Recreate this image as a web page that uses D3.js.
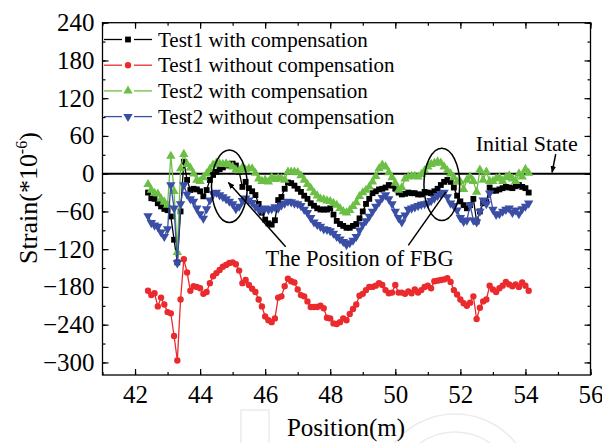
<!DOCTYPE html>
<html><head><meta charset="utf-8">
<script src="https://cdn.jsdelivr.net/npm/d3@7"></script>
<style>
html,body{margin:0;padding:0;background:#fff;}
svg{display:block;font-family:"Liberation Serif","Times New Roman",serif;}
</style></head>
<body><svg id="c" width="602" height="443"></svg>
<script>
// ---------- data ----------
const positions = d3.range(118).map(i => +(42.4 + i * 0.1).toFixed(1)); // 42.4 .. 54.1 m

const test1With = [-30,-39,-40,-47,-52,-56,-58,-68,-105,-141,
 -60,19,-10,-26,-24,-25,-28,-36,-26,-10,
 -2,3,7,10,13,15,16,13,3,-21,
 -13,-23,-28,-34,-48,-62,-73,-79,-81,-74,
 -42,-37,-24,-14,-15,-19,-24,-29,-35,-40,
 -47,-51,-55,-57,-57,-57,-55,-65,-75,-80,
 -83,-86,-86,-83,-80,-71,-60,-48,-40,-31,
 -28,-25,-24,-22,-18,-19,-24,-30,-33,-32,
 -30,-31,-31,-33,-33,-29,-30,-31,-28,-24,
 -18,-13,-10,-13,-22,-35,-44,-50,-55,-50,
 -40,-76,-60,-47,-45,-22,-27,-27,-25,-23,
 -21,-22,-23,-20,-18,-21,-23,-30];

const test1Without = [-186,-193,-190,-211,-197,-208,-220,-222,-258,-297,
 -200,-136,-157,-186,-179,-180,-182,-191,-188,-174,
 -163,-158,-153,-148,-145,-142,-141,-144,-154,-174,
 -169,-177,-183,-188,-200,-211,-227,-233,-236,-230,
 -197,-195,-179,-167,-171,-173,-184,-193,-195,-203,
 -212,-212,-212,-210,-214,-229,-230,-238,-239,-236,
 -230,-233,-223,-215,-208,-194,-191,-185,-180,-180,
 -178,-174,-177,-185,-190,-189,-177,-189,-189,-191,
 -187,-190,-184,-189,-185,-180,-178,-182,-171,-170,
 -169,-168,-166,-172,-185,-192,-200,-206,-210,-205,
 -195,-231,-213,-203,-200,-178,-184,-188,-182,-178,
 -172,-176,-179,-176,-180,-173,-178,-186];

const test2With = [-17,-26,-31,-32,-40,-45,-50,28,-28,-125,
 8,31,15,9,0,-10,-12,-6,0,7,
 14,17,16,15,16,14,11,6,5,10,
 6,8,8,1,-8,-12,-10,-13,-6,-9,
 -7,-8,-10,3,3,3,2,-3,-10,-17,
 -23,-30,-35,-40,-41,-43,-44,-47,-50,-55,
 -60,-62,-58,-52,-46,-36,-30,-26,-21,-13,
 -4,8,14,11,2,-6,-15,-26,-22,-8,
 -5,-4,-4,-5,-1,5,11,15,17,19,
 17,11,5,0,-6,-13,-13,-25,-10,-5,
 -12,-29,6,-10,3,-12,-12,-8,-6,-12,
 -6,-3,-8,-12,0,-5,7,1];

const test2Without = [-67,-78,-82,-84,-93,-100,-88,-18,-55,-142,
 -48,-18,-33,-40,-44,-55,-64,-71,-56,-42,
 -32,-30,-34,-37,-40,-44,-48,-56,-52,-43,
 -39,-42,-46,-52,-57,-58,-55,-57,-56,-53,
 -55,-50,-47,-44,-45,-47,-48,-51,-57,-62,
 -70,-77,-81,-84,-88,-89,-91,-95,-100,-104,
 -108,-113,-110,-106,-100,-90,-81,-75,-68,-60,
 -52,-45,-38,-34,-40,-48,-60,-70,-77,-66,
 -57,-55,-53,-51,-49,-48,-47,-43,-39,-35,
 -32,-30,-37,-47,-51,-58,-70,-76,-74,-50,
 -74,-77,-60,-42,-48,-31,-57,-65,-64,-60,
 -57,-55,-62,-58,-64,-56,-52,-47];

const seriesNames = ["Test1 with compensation","Test1 without compensation","Test2 with compensation","Test2 without compensation"];
const seriesValues = [test1With, test1Without, test2With, test2Without];
const seriesColors = ["#000000","#ea2a2c","#6cbf45","#3a4ea6"];
const seriesMarkers = ["square","circle","up","down"];

const xTicks = [42,44,46,48,50,52,54,56];
const yTicks = [-300,-240,-180,-120,-60,0,60,120,180,240];

// ---------- layout ----------
const svg = d3.select("#c");
const L = 102.5, R = 590.5, T = 22.7, B = 375;
const x = d3.scaleLinear().domain([41,56]).range([L,R]);
const y = d3.scaleLinear().domain([-320,240]).range([B,T]);

svg.append("rect").attr("width",602).attr("height",443).attr("fill","#fff");

// faint watermark
const wm = svg.append("g").attr("fill","none").attr("stroke","#ececec").attr("stroke-width",1.5);
wm.append("circle").attr("cx",455).attr("cy",492).attr("r",78);
wm.append("circle").attr("cx",455).attr("cy",492).attr("r",60);
wm.append("rect").attr("x",241).attr("y",410).attr("width",28).attr("height",40);

// zero line
svg.append("line").attr("x1",x(41)).attr("x2",x(56)).attr("y1",y(0)).attr("y2",y(0))
  .attr("stroke","#000").attr("stroke-width",2);

// axes
const fontTick = 25;
function styleAxis(g){ g.select(".domain").remove(); g.selectAll("line").attr("stroke","#000").attr("stroke-width",1.2);
  g.selectAll("text").attr("font-size",fontTick).attr("font-family","Liberation Serif").attr("fill","#000"); }
const xMinor = d3.range(41,57,1);
const yMinor = d3.range(-300,241,30);
svg.append("g").attr("transform",`translate(0,${B})`).call(d3.axisBottom(x).tickValues(xTicks).tickSize(-6).tickPadding(10).tickFormat(d3.format("d"))).call(styleAxis);
svg.append("g").attr("transform",`translate(0,${B})`).call(d3.axisBottom(x).tickValues(xMinor).tickSize(-3).tickFormat("")).call(styleAxis);
svg.append("g").attr("transform",`translate(0,${T})`).call(d3.axisTop(x).tickValues(xTicks).tickSize(-6).tickFormat("")).call(styleAxis);
svg.append("g").attr("transform",`translate(0,${T})`).call(d3.axisTop(x).tickValues(xMinor).tickSize(-3).tickFormat("")).call(styleAxis);
svg.append("g").attr("transform",`translate(${L},0)`).call(d3.axisLeft(y).tickValues(yTicks).tickSize(-6).tickPadding(8).tickFormat(d3.format("d"))).call(styleAxis);
svg.append("g").attr("transform",`translate(${L},0)`).call(d3.axisLeft(y).tickValues(yMinor).tickSize(-3).tickFormat("")).call(styleAxis);
svg.append("g").attr("transform",`translate(${R},0)`).call(d3.axisRight(y).tickValues(yTicks).tickSize(-6).tickFormat("")).call(styleAxis);
svg.append("g").attr("transform",`translate(${R},0)`).call(d3.axisRight(y).tickValues(yMinor).tickSize(-3).tickFormat("")).call(styleAxis);

// frame
svg.append("rect").attr("x",L).attr("y",T).attr("width",R-L).attr("height",B-T)
  .attr("fill","none").attr("stroke","#000").attr("stroke-width",1.3);

// markers
function markerPath(kind){
  if(kind==="square") return d3.symbol(d3.symbolSquare,34)();
  if(kind==="circle") return d3.symbol(d3.symbolCircle,32)();
  return d3.symbol(d3.symbolTriangle,38)();
}
function drawMarker(g,kind,color,px,py){
  g.append("path").attr("d",markerPath(kind)).attr("fill",color)
   .attr("transform",`translate(${px},${py})${kind==="down"?" rotate(180)":""}`);
}

// series
const line = d3.line().x(d=>x(d[0])).y(d=>y(d[1]));
seriesValues.forEach((vals,si)=>{
  const pts = positions.map((p,i)=>[p,vals[i]]);
  const g = svg.append("g");
  g.append("path").attr("d",line(pts)).attr("fill","none").attr("stroke",seriesColors[si]).attr("stroke-width",1.3);
  pts.forEach(p=>drawMarker(g,seriesMarkers[si],seriesColors[si],x(p[0]),y(p[1])));
});

// legend
const leg = svg.append("g");
seriesNames.forEach((name,i)=>{
  const ly = 39.5 + i*25.7;
  leg.append("line").attr("x1",104).attr("x2",122).attr("y1",ly).attr("y2",ly).attr("stroke",seriesColors[i]).attr("stroke-width",1.3);
  leg.append("line").attr("x1",134).attr("x2",152).attr("y1",ly).attr("y2",ly).attr("stroke",seriesColors[i]).attr("stroke-width",1.3);
  drawMarker(leg,seriesMarkers[i],seriesColors[i],128,ly);
  leg.append("text").attr("x",158).attr("y",ly+7).attr("font-size",21).attr("fill","#000").text(name);
});

// annotations
const ann = svg.append("g").attr("fill","none").attr("stroke","#000").attr("stroke-width",1.5);
const ellipses = [[44.9,-20],[51.43,-17]];
ellipses.forEach(e=>{
  ann.append("ellipse").attr("cx",x(e[0])).attr("cy",y(e[1])).attr("rx",x(e[0]+0.55)-x(e[0])).attr("ry",y(e[1])-y(e[1]+57.5));
});
svg.append("defs").append("marker").attr("id","ah").attr("viewBox","0 0 10 10").attr("refX",9).attr("refY",5)
  .attr("markerWidth",7).attr("markerHeight",7).attr("orient","auto-start-reverse").attr("markerUnits","userSpaceOnUse")
  .append("path").attr("d","M0,1 L10,5 L0,9 Z").attr("fill","#000");
ann.append("line").attr("x1",x(46.63)).attr("y1",y(-116)).attr("x2",x(44.87)).attr("y2",y(-14)).attr("marker-end","url(#ah)");
ann.append("line").attr("x1",x(50.40)).attr("y1",y(-114)).attr("x2",x(51.56)).attr("y2",y(-29));
ann.append("line").attr("x1",x(54.93)).attr("y1",y(31)).attr("x2",x(54.82)).attr("y2",y(2)).attr("marker-end","url(#ah)");

svg.append("text").attr("x",x(46.01)).attr("y",y(-146)).attr("font-size",22.5).attr("fill","#000").text("The Position of FBG");
svg.append("text").attr("x",x(52.47)).attr("y",y(36)).attr("font-size",22).attr("fill","#000").text("Initial State");

// axis titles
svg.append("text").attr("x",346).attr("y",436).attr("text-anchor","middle").attr("font-size",25).attr("fill","#000").text("Position(m)");
const yt = svg.append("text").attr("transform","translate(37,198) rotate(-90)").attr("text-anchor","middle").attr("font-size",26).attr("fill","#000");
yt.append("tspan").text("Strain(*10");
yt.append("tspan").attr("font-size",16).attr("dy",-10).text("-6");
yt.append("tspan").attr("dy",10).text(")");
</script></body></html>
